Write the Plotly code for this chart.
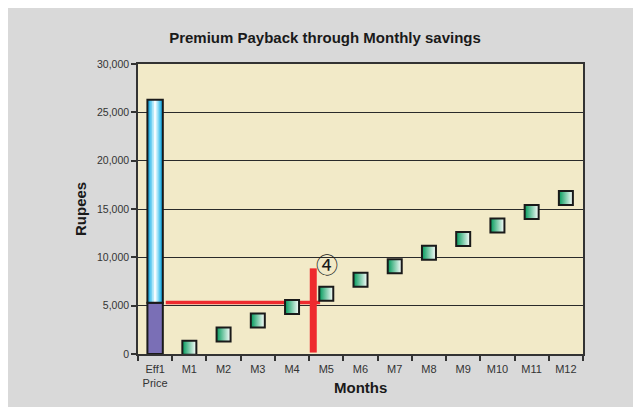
import plotly.graph_objects as go

# Data
CATEGORIES = ["Eff1<br>Price", "M1", "M2", "M3", "M4", "M5", "M6",
              "M7", "M8", "M9", "M10", "M11", "M12"]
MONTH_SAVINGS = [640, 2020, 3470, 4860, 6240, 7690, 9070,
                 10470, 11900, 13300, 14700, 16140]
PREMIUM = 5300          # lower (purple) part of the price bar
BASE_PRICE = 21000      # upper (blue) part, stacked on the premium
PAYBACK_LEVEL = 5340
PAYBACK_MONTH = 4.62    # position of the red marker between M4 and M5
PAYBACK_TOP = 8860
PAYBACK_START = 0.31
PAYBACK_END = 4.82
Y_TICKS = [0, 5000, 10000, 15000, 20000, 25000, 30000]

FONT_FAMILY = "Liberation Sans, Arial, sans-serif"
PAPER_BG = "#d9d9d9"
PLOT_BG = "#f2eac8"
BAR_WIDTH = 0.45

# page body adds an 8px margin, so the figure is a bit smaller
W, H = 633, 399
L, R, T, B = 130, 58, 56, 53
PW, PH = W - L - R, H - T - B

x_pos = list(range(len(CATEGORIES)))
m_pos = x_pos[1:]

fig = go.Figure()

# price bar: premium part
fig.add_trace(go.Bar(
    x=[0], y=[PREMIUM], base=[0], width=BAR_WIDTH,
    marker=dict(color="#7a6fb6", line=dict(color="#1a1a1a", width=2)),
    hoverinfo="skip", showlegend=False,
))
# price bar: blue cylinder look, built from layered bars
for w, col in [(BAR_WIDTH, "#1ea9de"), (0.32, "#5cc8ef"),
               (0.2, "#a8e5f8"), (0.08, "#f4fcff")]:
    fig.add_trace(go.Bar(
        x=[0], y=[BASE_PRICE], base=[PREMIUM], width=w,
        marker=dict(color=col, line=dict(width=0)),
        hoverinfo="skip", showlegend=False,
    ))
# outline of the blue bar on top
fig.add_trace(go.Bar(
    x=[0], y=[BASE_PRICE], base=[PREMIUM], width=BAR_WIDTH,
    marker=dict(color="rgba(0,0,0,0)", line=dict(color="#1a1a1a", width=2)),
    hoverinfo="skip", showlegend=False,
))

# payback guide lines
fig.add_trace(go.Scatter(
    x=[PAYBACK_START, PAYBACK_END], y=[PAYBACK_LEVEL, PAYBACK_LEVEL],
    mode="lines", line=dict(color="#ee2a2e", width=3.5),
    hoverinfo="skip", showlegend=False,
))
fig.add_trace(go.Scatter(
    x=[PAYBACK_MONTH, PAYBACK_MONTH], y=[150, PAYBACK_TOP],
    mode="lines", line=dict(color="#ee2a2e", width=7),
    hoverinfo="skip", showlegend=False,
))

# cumulative monthly savings
fig.add_trace(go.Scatter(
    x=m_pos, y=MONTH_SAVINGS, mode="markers",
    marker=dict(symbol="square", size=14, color="#00995a",
                gradient=dict(type="horizontal", color="#ffffff"),
                line=dict(color="#1a1a1a", width=2)),
    showlegend=False,
))

fig.update_layout(
    width=W, height=H,
    margin=dict(l=L, r=R, t=T, b=B),
    paper_bgcolor=PAPER_BG,
    plot_bgcolor=PLOT_BG,
    barmode="overlay",
    font=dict(family=FONT_FAMILY, color="#333333"),
    title=dict(text="<b>Premium Payback through Monthly savings</b>",
               x=(325 - 8) / W, y=1 - 30 / H, xanchor="center", yanchor="middle",
               font=dict(size=15, color="#1a1a1a")),
    annotations=[
        dict(text="<b>Rupees</b>", textangle=-90, showarrow=False,
             xref="paper", yref="paper", x=(72 - L) / PW, y=0.5,
             xanchor="center", yanchor="middle",
             font=dict(size=15, color="#1a1a1a")),
        dict(text="<b>Months</b>", showarrow=False,
             xref="paper", yref="paper", x=0.5, y=0, yshift=-23,
             xanchor="center", yanchor="top",
             font=dict(size=15, color="#1a1a1a")),
        dict(text="④", showarrow=False, x=5.03, y=9380,
             xanchor="center", yanchor="middle",
             font=dict(size=22, family="Noto Sans CJK JP, DejaVu Serif, serif",
                       color="#1a1a1a")),
    ],
)

fig.update_xaxes(
    range=[-0.5, len(CATEGORIES) - 0.5],
    tickvals=x_pos, ticktext=CATEGORIES,
    ticks="", tickfont=dict(size=11, color="#333333"),
    ticklabelstandoff=4,
    showgrid=False, zeroline=False,
    showline=True, linecolor="#333333", linewidth=1.5, mirror=True,
    minor=dict(tickmode="linear", tick0=-0.5, dtick=1, ticks="outside",
               ticklen=5, tickcolor="#333333", tickwidth=1.5, showgrid=False),
)
fig.update_yaxes(
    range=[0, 30000], tickvals=Y_TICKS, tickformat=",d",
    ticks="outside", ticklen=5, tickcolor="#333333", tickwidth=1.5,
    tickfont=dict(size=10.5, color="#333333"),
    showgrid=True, gridcolor="#2a2a2a", gridwidth=1,
    zeroline=False,
    showline=True, linecolor="#333333", linewidth=1.5, mirror=True,
)

fig.write_html("out.html")
